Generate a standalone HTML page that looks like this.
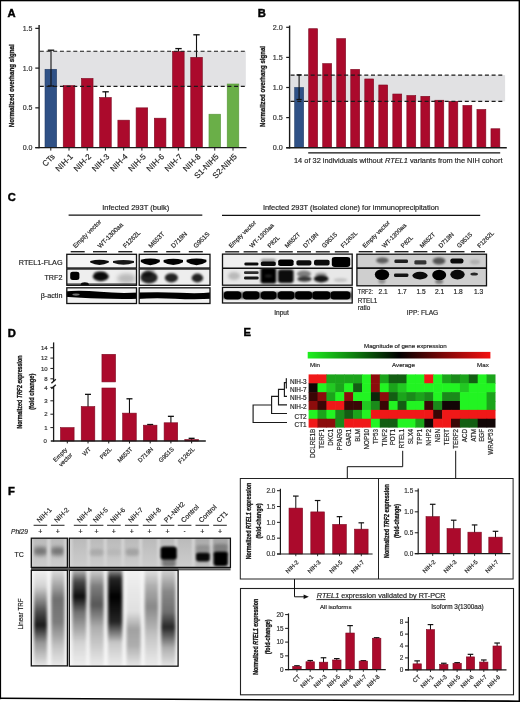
<!DOCTYPE html>
<html><head><meta charset="utf-8"><title>Figure</title><style>html,body{margin:0;padding:0;background:#fff;width:520px;height:702px;overflow:hidden;font-family:"Liberation Sans",sans-serif}svg{display:block;will-change:transform}text{stroke:#2a2a2a;stroke-width:0.18px}text[font-weight=bold]{stroke:#111;stroke-width:0.3px}</style></head><body>
<svg width="520" height="702" viewBox="0 0 520 702" font-family='"Liberation Sans", sans-serif'><defs><filter id="bl05" x="-50%" y="-50%" width="200%" height="200%"><feGaussianBlur stdDeviation="0.5"/></filter><filter id="bl1" x="-50%" y="-50%" width="200%" height="200%"><feGaussianBlur stdDeviation="1"/></filter><filter id="bl15" x="-50%" y="-50%" width="200%" height="200%"><feGaussianBlur stdDeviation="1.5"/></filter><filter id="bl2" x="-50%" y="-50%" width="200%" height="200%"><feGaussianBlur stdDeviation="2"/></filter><filter id="bl3" x="-50%" y="-50%" width="200%" height="200%"><feGaussianBlur stdDeviation="3"/></filter><clipPath id="cp1"><rect x="66.8" y="254.3" width="69.7" height="13.7"/></clipPath><clipPath id="cp2"><rect x="139.2" y="254.3" width="70.8" height="13.7"/></clipPath><clipPath id="cp3"><rect x="66.8" y="269" width="69.7" height="16.3"/></clipPath><clipPath id="cp4"><rect x="139.2" y="269" width="70.8" height="16.3"/></clipPath><clipPath id="cp5"><rect x="66.8" y="287.8" width="69.7" height="15.7"/></clipPath><clipPath id="cp6"><rect x="139.2" y="287.8" width="70.8" height="15.7"/></clipPath><clipPath id="cp7"><rect x="222.5" y="254.1" width="129.7" height="14.1"/></clipPath><clipPath id="cp8"><rect x="222.5" y="268.2" width="129.7" height="16.9"/></clipPath><clipPath id="cp9"><rect x="222.5" y="287.4" width="129.7" height="15.6"/></clipPath><clipPath id="cp10"><rect x="356.9" y="254.2" width="129.6" height="13.8"/></clipPath><clipPath id="cp11"><rect x="356.9" y="268" width="129.6" height="17.8"/></clipPath><linearGradient id="hmg" x1="0" x2="1" y1="0" y2="0"><stop offset="0" stop-color="#1ef01e"/><stop offset="0.25" stop-color="#0e800e"/><stop offset="0.5" stop-color="#000"/><stop offset="0.75" stop-color="#800808"/><stop offset="1" stop-color="#f41010"/></linearGradient><linearGradient id="tcg" x1="0" x2="0" y1="0" y2="1"><stop offset="0" stop-color="#bababa"/><stop offset="0.5" stop-color="#c4c4c4"/><stop offset="1" stop-color="#cdcdcd"/></linearGradient><clipPath id="cp12"><rect x="31.3" y="538.2" width="36" height="29.2"/></clipPath><clipPath id="cp13"><rect x="69.3" y="538.2" width="161.1" height="29.2"/></clipPath><clipPath id="cp14"><rect x="31.3" y="570.3" width="36" height="95.6"/></clipPath><linearGradient id="sm1" x1="0" x2="0" y1="0" y2="1"><stop offset="0" stop-color="#000" stop-opacity="0"/><stop offset="0.2" stop-color="#000" stop-opacity="0.15"/><stop offset="0.45" stop-color="#000" stop-opacity="0.7"/><stop offset="0.58" stop-color="#000" stop-opacity="0.9"/><stop offset="0.75" stop-color="#000" stop-opacity="0.4"/><stop offset="1" stop-color="#000" stop-opacity="0.05"/></linearGradient><linearGradient id="sm2" x1="0" x2="0" y1="0" y2="1"><stop offset="0" stop-color="#000" stop-opacity="0.05"/><stop offset="0.2" stop-color="#000" stop-opacity="0.35"/><stop offset="0.32" stop-color="#000" stop-opacity="0.55"/><stop offset="0.55" stop-color="#000" stop-opacity="0.5"/><stop offset="0.8" stop-color="#000" stop-opacity="0.2"/><stop offset="1" stop-color="#000" stop-opacity="0.05"/></linearGradient><linearGradient id="sm4" x1="0" x2="0" y1="0" y2="1"><stop offset="0" stop-color="#000" stop-opacity="0.1"/><stop offset="0.15" stop-color="#000" stop-opacity="0.7"/><stop offset="0.3" stop-color="#000" stop-opacity="0.95"/><stop offset="0.45" stop-color="#000" stop-opacity="0.55"/><stop offset="0.75" stop-color="#000" stop-opacity="0.15"/><stop offset="1" stop-color="#000" stop-opacity="0.03"/></linearGradient><linearGradient id="sm5" x1="0" x2="0" y1="0" y2="1"><stop offset="0" stop-color="#000" stop-opacity="0.08"/><stop offset="0.2" stop-color="#000" stop-opacity="0.5"/><stop offset="0.38" stop-color="#000" stop-opacity="0.65"/><stop offset="0.6" stop-color="#000" stop-opacity="0.3"/><stop offset="1" stop-color="#000" stop-opacity="0.04"/></linearGradient><linearGradient id="sm6" x1="0" x2="0" y1="0" y2="1"><stop offset="0" stop-color="#000" stop-opacity="0.15"/><stop offset="0.12" stop-color="#000" stop-opacity="0.85"/><stop offset="0.3" stop-color="#000" stop-opacity="1"/><stop offset="0.55" stop-color="#000" stop-opacity="0.85"/><stop offset="0.75" stop-color="#000" stop-opacity="0.2"/><stop offset="1" stop-color="#000" stop-opacity="0.04"/></linearGradient><linearGradient id="sm7" x1="0" x2="0" y1="0" y2="1"><stop offset="0" stop-color="#000" stop-opacity="0.02"/><stop offset="0.45" stop-color="#000" stop-opacity="0.1"/><stop offset="0.62" stop-color="#000" stop-opacity="0.35"/><stop offset="0.78" stop-color="#000" stop-opacity="0.3"/><stop offset="1" stop-color="#000" stop-opacity="0.05"/></linearGradient><linearGradient id="sm8" x1="0" x2="0" y1="0" y2="1"><stop offset="0" stop-color="#000" stop-opacity="0.05"/><stop offset="0.2" stop-color="#000" stop-opacity="0.3"/><stop offset="0.4" stop-color="#000" stop-opacity="0.45"/><stop offset="0.7" stop-color="#000" stop-opacity="0.2"/><stop offset="1" stop-color="#000" stop-opacity="0.04"/></linearGradient><linearGradient id="sm9" x1="0" x2="0" y1="0" y2="1"><stop offset="0" stop-color="#000" stop-opacity="0.1"/><stop offset="0.25" stop-color="#000" stop-opacity="0.45"/><stop offset="0.45" stop-color="#000" stop-opacity="0.55"/><stop offset="0.6" stop-color="#000" stop-opacity="0.85"/><stop offset="0.8" stop-color="#000" stop-opacity="0.3"/><stop offset="1" stop-color="#000" stop-opacity="0.06"/></linearGradient><clipPath id="cp15"><rect x="69.3" y="570.3" width="108.8" height="95.9"/></clipPath></defs><rect x="0" y="0" width="520" height="702" fill="#fff" />
<text x="7.6" y="16.9" font-size="11.2" font-weight="bold" fill="#000" style="stroke:#000;stroke-width:0.45px">A</text>
<rect x="39.8" y="51.25" width="206" height="35.14" fill="#e2e2e4" />
<rect x="45" y="69.29" width="11.6" height="78.31" fill="#2f5186" stroke="#223c66" stroke-width="0.6" />
<rect x="63.22" y="85.59" width="11.6" height="62.01" fill="#ab0a2c" stroke="#7d0a22" stroke-width="0.6" />
<rect x="81.44" y="78.43" width="11.6" height="69.17" fill="#ab0a2c" stroke="#7d0a22" stroke-width="0.6" />
<rect x="99.66" y="97.51" width="11.6" height="50.09" fill="#ab0a2c" stroke="#7d0a22" stroke-width="0.6" />
<rect x="117.88" y="120.17" width="11.6" height="27.43" fill="#ab0a2c" stroke="#7d0a22" stroke-width="0.6" />
<rect x="136.1" y="107.85" width="11.6" height="39.75" fill="#ab0a2c" stroke="#7d0a22" stroke-width="0.6" />
<rect x="154.32" y="118.19" width="11.6" height="29.41" fill="#ab0a2c" stroke="#7d0a22" stroke-width="0.6" />
<rect x="172.54" y="51.41" width="11.6" height="96.19" fill="#ab0a2c" stroke="#7d0a22" stroke-width="0.6" />
<rect x="190.76" y="57.37" width="11.6" height="90.23" fill="#ab0a2c" stroke="#7d0a22" stroke-width="0.6" />
<rect x="208.98" y="114.21" width="11.6" height="33.39" fill="#6aaf48" stroke="#58963a" stroke-width="0.6" />
<rect x="227.2" y="84" width="11.6" height="63.6" fill="#6aaf48" stroke="#58963a" stroke-width="0.6" />
<line x1="39.8" y1="51.25" x2="245.8" y2="51.25" stroke="#1a1a1a" stroke-width="1.15" stroke-dasharray="4 2.7"/>
<line x1="39.8" y1="86.38" x2="245.8" y2="86.38" stroke="#1a1a1a" stroke-width="1.15" stroke-dasharray="4 2.7"/>
<line x1="51" y1="86" x2="51" y2="50.2" stroke="#111" stroke-width="1.1" />
<line x1="47.8" y1="50.2" x2="54.2" y2="50.2" stroke="#111" stroke-width="1.32" />
<line x1="48" y1="86" x2="54" y2="86" stroke="#111" stroke-width="1.2" />
<line x1="105.6" y1="97.51" x2="105.6" y2="91.8" stroke="#111" stroke-width="1.1" />
<line x1="102.4" y1="91.8" x2="108.8" y2="91.8" stroke="#111" stroke-width="1.32" />
<line x1="178.5" y1="51.41" x2="178.5" y2="48.6" stroke="#111" stroke-width="1.1" />
<line x1="175.3" y1="48.6" x2="181.7" y2="48.6" stroke="#111" stroke-width="1.32" />
<line x1="196.5" y1="57.37" x2="196.5" y2="34.8" stroke="#111" stroke-width="1.1" />
<line x1="193.3" y1="34.8" x2="199.7" y2="34.8" stroke="#111" stroke-width="1.32" />
<line x1="39.1" y1="25" x2="39.1" y2="148.3" stroke="#1a1a1a" stroke-width="1.4" />
<line x1="35.3" y1="147.6" x2="246.5" y2="147.6" stroke="#1a1a1a" stroke-width="1.4" />
<line x1="35.3" y1="28.35" x2="39.1" y2="28.35" stroke="#1a1a1a" stroke-width="1.2" />
<text x="32.4" y="30.85" font-size="7" text-anchor="end" fill="#3a3a3a">1.5</text>
<line x1="35.3" y1="68.1" x2="39.1" y2="68.1" stroke="#1a1a1a" stroke-width="1.2" />
<text x="32.4" y="70.6" font-size="7" text-anchor="end" fill="#3a3a3a">1.0</text>
<line x1="35.3" y1="107.85" x2="39.1" y2="107.85" stroke="#1a1a1a" stroke-width="1.2" />
<text x="32.4" y="110.35" font-size="7" text-anchor="end" fill="#3a3a3a">0.5</text>
<line x1="35.3" y1="147.6" x2="39.1" y2="147.6" stroke="#1a1a1a" stroke-width="1.2" />
<text x="32.4" y="150.1" font-size="7" text-anchor="end" fill="#3a3a3a">0.0</text>
<line x1="50.8" y1="147.6" x2="50.8" y2="150.6" stroke="#1a1a1a" stroke-width="1" />
<text x="55.3" y="157.2" font-size="8" text-anchor="end" fill="#1a1a1a" transform="rotate(-45 55.3 157.2)">CTs</text>
<line x1="69.02" y1="147.6" x2="69.02" y2="150.6" stroke="#1a1a1a" stroke-width="1" />
<text x="73.52" y="157.2" font-size="8" text-anchor="end" fill="#1a1a1a" transform="rotate(-45 73.52 157.2)">NIH-1</text>
<line x1="87.24" y1="147.6" x2="87.24" y2="150.6" stroke="#1a1a1a" stroke-width="1" />
<text x="91.74" y="157.2" font-size="8" text-anchor="end" fill="#1a1a1a" transform="rotate(-45 91.74 157.2)">NIH-2</text>
<line x1="105.46" y1="147.6" x2="105.46" y2="150.6" stroke="#1a1a1a" stroke-width="1" />
<text x="109.96" y="157.2" font-size="8" text-anchor="end" fill="#1a1a1a" transform="rotate(-45 109.96 157.2)">NIH-3</text>
<line x1="123.68" y1="147.6" x2="123.68" y2="150.6" stroke="#1a1a1a" stroke-width="1" />
<text x="128.18" y="157.2" font-size="8" text-anchor="end" fill="#1a1a1a" transform="rotate(-45 128.18 157.2)">NIH-4</text>
<line x1="141.9" y1="147.6" x2="141.9" y2="150.6" stroke="#1a1a1a" stroke-width="1" />
<text x="146.4" y="157.2" font-size="8" text-anchor="end" fill="#1a1a1a" transform="rotate(-45 146.4 157.2)">NIH-5</text>
<line x1="160.12" y1="147.6" x2="160.12" y2="150.6" stroke="#1a1a1a" stroke-width="1" />
<text x="164.62" y="157.2" font-size="8" text-anchor="end" fill="#1a1a1a" transform="rotate(-45 164.62 157.2)">NIH-6</text>
<line x1="178.34" y1="147.6" x2="178.34" y2="150.6" stroke="#1a1a1a" stroke-width="1" />
<text x="182.84" y="157.2" font-size="8" text-anchor="end" fill="#1a1a1a" transform="rotate(-45 182.84 157.2)">NIH-7</text>
<line x1="196.56" y1="147.6" x2="196.56" y2="150.6" stroke="#1a1a1a" stroke-width="1" />
<text x="201.06" y="157.2" font-size="8" text-anchor="end" fill="#1a1a1a" transform="rotate(-45 201.06 157.2)">NIH-8</text>
<line x1="214.78" y1="147.6" x2="214.78" y2="150.6" stroke="#1a1a1a" stroke-width="1" />
<text x="219.28" y="157.2" font-size="8" text-anchor="end" fill="#1a1a1a" transform="rotate(-45 219.28 157.2)">S1-NIH5</text>
<line x1="233" y1="147.6" x2="233" y2="150.6" stroke="#1a1a1a" stroke-width="1" />
<text x="237.5" y="157.2" font-size="8" text-anchor="end" fill="#1a1a1a" transform="rotate(-45 237.5 157.2)">S2-NIH5</text>
<text x="14.5" y="85.8" font-size="7.2" text-anchor="middle" font-weight="bold" fill="#1a1a1a" textLength="83" lengthAdjust="spacingAndGlyphs" transform="rotate(-90 14.5 85.8)">Normalized overhang signal</text>
<text x="257.8" y="16.9" font-size="11.2" font-weight="bold" fill="#000" style="stroke:#000;stroke-width:0.45px">B</text>
<rect x="290.6" y="75.16" width="214.5" height="26.19" fill="#e1e1e3" />
<rect x="294.7" y="87.5" width="8.9" height="60.2" fill="#2f5186" stroke="#223c66" stroke-width="0.6" />
<rect x="308.7" y="28.7" width="8.9" height="119" fill="#ab0a2c" stroke="#7d0a22" stroke-width="0.6" />
<rect x="322.72" y="63.62" width="8.9" height="84.08" fill="#ab0a2c" stroke="#7d0a22" stroke-width="0.6" />
<rect x="336.74" y="38.64" width="8.9" height="109.06" fill="#ab0a2c" stroke="#7d0a22" stroke-width="0.6" />
<rect x="350.76" y="69.34" width="8.9" height="78.36" fill="#ab0a2c" stroke="#7d0a22" stroke-width="0.6" />
<rect x="364.78" y="78.97" width="8.9" height="68.73" fill="#ab0a2c" stroke="#7d0a22" stroke-width="0.6" />
<rect x="378.8" y="84.99" width="8.9" height="62.71" fill="#ab0a2c" stroke="#7d0a22" stroke-width="0.6" />
<rect x="392.82" y="94.02" width="8.9" height="53.68" fill="#ab0a2c" stroke="#7d0a22" stroke-width="0.6" />
<rect x="406.84" y="95.52" width="8.9" height="52.18" fill="#ab0a2c" stroke="#7d0a22" stroke-width="0.6" />
<rect x="420.86" y="96.31" width="8.9" height="51.39" fill="#ab0a2c" stroke="#7d0a22" stroke-width="0.6" />
<rect x="434.88" y="100.22" width="8.9" height="47.48" fill="#ab0a2c" stroke="#7d0a22" stroke-width="0.6" />
<rect x="448.9" y="101.36" width="8.9" height="46.34" fill="#ab0a2c" stroke="#7d0a22" stroke-width="0.6" />
<rect x="462.92" y="105.46" width="8.9" height="42.24" fill="#ab0a2c" stroke="#7d0a22" stroke-width="0.6" />
<rect x="476.94" y="109.49" width="8.9" height="38.21" fill="#ab0a2c" stroke="#7d0a22" stroke-width="0.6" />
<rect x="490.96" y="128.76" width="8.9" height="18.94" fill="#ab0a2c" stroke="#7d0a22" stroke-width="0.6" />
<line x1="290.6" y1="75.16" x2="504" y2="75.16" stroke="#1a1a1a" stroke-width="1.15" stroke-dasharray="4 2.7"/>
<line x1="290.6" y1="101.35" x2="504" y2="101.35" stroke="#1a1a1a" stroke-width="1.15" stroke-dasharray="4 2.7"/>
<line x1="299.1" y1="99.5" x2="299.1" y2="74.9" stroke="#111" stroke-width="1.1" />
<line x1="296.5" y1="74.9" x2="301.7" y2="74.9" stroke="#111" stroke-width="1.32" />
<line x1="296.5" y1="99.5" x2="301.7" y2="99.5" stroke="#111" stroke-width="1.2" />
<line x1="289.6" y1="25.5" x2="289.6" y2="148.4" stroke="#1a1a1a" stroke-width="1.4" />
<line x1="286.2" y1="147.7" x2="506.8" y2="147.7" stroke="#1a1a1a" stroke-width="1.4" />
<line x1="286.2" y1="27.3" x2="289.6" y2="27.3" stroke="#1a1a1a" stroke-width="1.2" />
<text x="282.7" y="29.8" font-size="7.2" text-anchor="end" fill="#3a3a3a">2.0</text>
<line x1="286.2" y1="57.4" x2="289.6" y2="57.4" stroke="#1a1a1a" stroke-width="1.2" />
<text x="282.7" y="59.9" font-size="7.2" text-anchor="end" fill="#3a3a3a">1.5</text>
<line x1="286.2" y1="87.5" x2="289.6" y2="87.5" stroke="#1a1a1a" stroke-width="1.2" />
<text x="282.7" y="90" font-size="7.2" text-anchor="end" fill="#3a3a3a">1.0</text>
<line x1="286.2" y1="117.6" x2="289.6" y2="117.6" stroke="#1a1a1a" stroke-width="1.2" />
<text x="282.7" y="120.1" font-size="7.2" text-anchor="end" fill="#3a3a3a">0.5</text>
<line x1="286.2" y1="147.7" x2="289.6" y2="147.7" stroke="#1a1a1a" stroke-width="1.2" />
<text x="282.7" y="150.2" font-size="7.2" text-anchor="end" fill="#3a3a3a">0.0</text>
<line x1="308.2" y1="152.8" x2="500.2" y2="152.8" stroke="#111" stroke-width="1.2" />
<text x="294" y="163" font-size="7.4" fill="#222" textLength="208.5" lengthAdjust="spacingAndGlyphs">14 of 32 individuals without <tspan font-style="italic">RTEL1</tspan> variants from the NIH cohort</text>
<text x="265.4" y="86.5" font-size="7.2" text-anchor="middle" font-weight="bold" fill="#1a1a1a" textLength="81" lengthAdjust="spacingAndGlyphs" transform="rotate(-90 265.4 86.5)">Normalized overhang signal</text>
<text x="7.8" y="200.6" font-size="11.2" font-weight="bold" fill="#000" style="stroke:#000;stroke-width:0.45px">C</text>
<text x="102.2" y="210.4" font-size="7.5" fill="#222" textLength="67" lengthAdjust="spacingAndGlyphs">Infected 293T (bulk)</text>
<line x1="68.6" y1="215.1" x2="202.3" y2="215.1" stroke="#111" stroke-width="1.2" />
<text x="262.9" y="210.2" font-size="7.4" fill="#222" textLength="176" lengthAdjust="spacingAndGlyphs">Infected 293T (isolated clone) for immunoprecipitation</text>
<line x1="222" y1="215.3" x2="480.2" y2="215.3" stroke="#111" stroke-width="1.2" />
<text x="75.5" y="248.6" font-size="6.4" fill="#222" transform="rotate(-45 75.5 248.6)">Empty vector</text>
<text x="100.2" y="248.6" font-size="6.4" fill="#222" transform="rotate(-45 100.2 248.6)">WT-1300aa</text>
<text x="125.5" y="248.6" font-size="6.4" fill="#222" transform="rotate(-45 125.5 248.6)">F1262L</text>
<text x="150.9" y="248.6" font-size="6.4" fill="#222" transform="rotate(-45 150.9 248.6)">M653T</text>
<text x="173.4" y="248.6" font-size="6.4" fill="#222" transform="rotate(-45 173.4 248.6)">D719N</text>
<text x="196" y="248.6" font-size="6.4" fill="#222" transform="rotate(-45 196 248.6)">G951S</text>
<text x="231.2" y="248.2" font-size="6.1" fill="#222" transform="rotate(-45 231.2 248.2)">Empty vector</text>
<text x="252" y="248.2" font-size="6.1" fill="#222" transform="rotate(-45 252 248.2)">WT-1300aa</text>
<text x="270" y="248.2" font-size="6.1" fill="#222" transform="rotate(-45 270 248.2)">P82L</text>
<text x="287.2" y="248.2" font-size="6.1" fill="#222" transform="rotate(-45 287.2 248.2)">M652T</text>
<text x="305.4" y="248.2" font-size="6.1" fill="#222" transform="rotate(-45 305.4 248.2)">D719N</text>
<text x="324.2" y="248.2" font-size="6.1" fill="#222" transform="rotate(-45 324.2 248.2)">G951S</text>
<text x="343.2" y="248.2" font-size="6.1" fill="#222" transform="rotate(-45 343.2 248.2)">F1262L</text>
<text x="365.1" y="248.2" font-size="6.1" fill="#222" transform="rotate(-45 365.1 248.2)">Empty vector</text>
<text x="384.4" y="248.2" font-size="6.1" fill="#222" transform="rotate(-45 384.4 248.2)">WT-1300aa</text>
<text x="403.3" y="248.2" font-size="6.1" fill="#222" transform="rotate(-45 403.3 248.2)">P82L</text>
<text x="422.2" y="248.2" font-size="6.1" fill="#222" transform="rotate(-45 422.2 248.2)">M652T</text>
<text x="440.9" y="248.2" font-size="6.1" fill="#222" transform="rotate(-45 440.9 248.2)">D719N</text>
<text x="459.3" y="248.2" font-size="6.1" fill="#222" transform="rotate(-45 459.3 248.2)">G951S</text>
<text x="479.8" y="248.2" font-size="6.1" fill="#222" transform="rotate(-45 479.8 248.2)">F1262L</text>
<line x1="70.7" y1="251.7" x2="84.7" y2="251.7" stroke="#222" stroke-width="1.4" />
<line x1="93" y1="251.7" x2="107" y2="251.7" stroke="#222" stroke-width="1.4" />
<line x1="118.3" y1="251.7" x2="132.3" y2="251.7" stroke="#222" stroke-width="1.4" />
<line x1="143.7" y1="251.7" x2="157.7" y2="251.7" stroke="#222" stroke-width="1.4" />
<line x1="166.2" y1="251.7" x2="180.2" y2="251.7" stroke="#222" stroke-width="1.4" />
<line x1="188.8" y1="251.7" x2="202.8" y2="251.7" stroke="#222" stroke-width="1.4" />
<line x1="225.2" y1="251.8" x2="239.2" y2="251.8" stroke="#222" stroke-width="1.4" />
<line x1="243.6" y1="251.8" x2="257.6" y2="251.8" stroke="#222" stroke-width="1.4" />
<line x1="261.6" y1="251.8" x2="275.6" y2="251.8" stroke="#222" stroke-width="1.4" />
<line x1="278.8" y1="251.8" x2="292.8" y2="251.8" stroke="#222" stroke-width="1.4" />
<line x1="297" y1="251.8" x2="311" y2="251.8" stroke="#222" stroke-width="1.4" />
<line x1="315.8" y1="251.8" x2="329.8" y2="251.8" stroke="#222" stroke-width="1.4" />
<line x1="334.8" y1="251.8" x2="348.8" y2="251.8" stroke="#222" stroke-width="1.4" />
<line x1="358.7" y1="251.7" x2="372.7" y2="251.7" stroke="#222" stroke-width="1.4" />
<line x1="375.6" y1="251.7" x2="389.6" y2="251.7" stroke="#222" stroke-width="1.4" />
<line x1="394.5" y1="251.7" x2="408.5" y2="251.7" stroke="#222" stroke-width="1.4" />
<line x1="413.4" y1="251.7" x2="427.4" y2="251.7" stroke="#222" stroke-width="1.4" />
<line x1="432.1" y1="251.7" x2="446.1" y2="251.7" stroke="#222" stroke-width="1.4" />
<line x1="450.5" y1="251.7" x2="464.5" y2="251.7" stroke="#222" stroke-width="1.4" />
<line x1="471" y1="251.7" x2="485" y2="251.7" stroke="#222" stroke-width="1.4" />
<text x="62.6" y="265.3" font-size="7.2" text-anchor="end" fill="#222" textLength="43.8" lengthAdjust="spacingAndGlyphs">RTEL1-FLAG</text>
<text x="62.4" y="279.8" font-size="7.2" text-anchor="end" fill="#222">TRF2</text>
<text x="62.4" y="297.6" font-size="7.2" text-anchor="end" fill="#222">&#946;-actin</text>
<rect x="66.8" y="254.3" width="69.7" height="13.7" fill="#f5f5f5" />
<rect x="66.8" y="269" width="69.7" height="16.3" fill="#eeeeee" />
<rect x="66.8" y="287.8" width="69.7" height="15.7" fill="#f2f2f2" />
<rect x="139.2" y="254.3" width="70.8" height="13.7" fill="#f5f5f5" />
<rect x="139.2" y="269" width="70.8" height="16.3" fill="#eeeeee" />
<rect x="139.2" y="287.8" width="70.8" height="15.7" fill="#f2f2f2" />
<g clip-path="url(#cp1)">
<path d="M90.2,260.9 Q99.5,258.7 108.8,260.9 L108.8,262.6 Q99.5,267.4 90.2,262.6 Z" fill="#000" fill-opacity="0.95" filter="url(#bl05)"/>
<path d="M113,261.1 Q123.5,258.9 134,261.1 L134,262.8 Q123.5,266.8 113,262.8 Z" fill="#000" fill-opacity="0.9" filter="url(#bl05)"/>
</g>
<g clip-path="url(#cp2)">
<path d="M140.8,259.7 Q150.3,257.5 159.8,259.7 L159.8,262 Q150.3,268.4 140.8,262 Z" fill="#000" fill-opacity="1" filter="url(#bl05)"/>
<path d="M163.6,259.9 Q173.3,257.7 183,259.9 L183,262.2 Q173.3,267.8 163.6,262.2 Z" fill="#000" fill-opacity="1" filter="url(#bl05)"/>
<path d="M186.6,259.7 Q196.5,257.5 206.4,259.7 L206.4,262 Q196.5,268.4 186.6,262 Z" fill="#000" fill-opacity="1" filter="url(#bl05)"/>
</g>
<g clip-path="url(#cp3)">
<rect x="70.2" y="271.8" width="9.2" height="8.2" rx="2.5" ry="2" fill="#000" fill-opacity="1" filter="url(#bl05)"/>
<ellipse cx="84.8" cy="284.2" rx="4" ry="2" fill="#000" fill-opacity="0.95" filter="url(#bl05)"/>
<rect x="66.8" y="283.2" width="70" height="3" fill="#000" fill-opacity="0.55" filter="url(#bl05)"/>
<ellipse cx="100.8" cy="276.6" rx="8" ry="4.6" fill="#000" fill-opacity="0.95" filter="url(#bl1)"/>
<ellipse cx="100" cy="273.5" rx="6" ry="2" fill="#000" fill-opacity="0.5" filter="url(#bl1)"/>
<ellipse cx="126.5" cy="278.5" rx="9.5" ry="5" fill="#000" fill-opacity="0.22" filter="url(#bl2)"/>
</g>
<g clip-path="url(#cp4)">
<ellipse cx="149" cy="277.6" rx="8.6" ry="6" fill="#000" fill-opacity="0.85" filter="url(#bl1)"/>
<ellipse cx="147" cy="274" rx="5" ry="3" fill="#000" fill-opacity="0.5" filter="url(#bl1)"/>
<ellipse cx="171.4" cy="277.8" rx="6.6" ry="4.6" fill="#000" fill-opacity="0.85" filter="url(#bl1)"/>
<ellipse cx="197.4" cy="278" rx="5.8" ry="4.4" fill="#000" fill-opacity="0.85" filter="url(#bl1)"/>
<ellipse cx="150" cy="270.5" rx="5" ry="2" fill="#000" fill-opacity="0.25" filter="url(#bl1)"/>
</g>
<g clip-path="url(#cp5)">
<path d="M64,291.4 Q80,290.0 100,291.8 T140,292.4 L140,298.8 Q120,299.4 100,298.6 T64,296.8 Z" fill="#000" filter="url(#bl05)"/>
<ellipse cx="76" cy="294.6" rx="3.6" ry="1.1" fill="#fff" fill-opacity="0.45" filter="url(#bl05)"/>
</g>
<g clip-path="url(#cp6)">
<path d="M137,292.6 Q160,291.6 180,292.8 T213,292.0 L213,298.8 Q195,299.8 175,298.8 T137,299.0 Z" fill="#000" filter="url(#bl05)"/>
</g>
<rect x="66.8" y="254.3" width="69.7" height="13.7" fill="none" stroke="#111" stroke-width="1.3" />
<rect x="66.8" y="269" width="69.7" height="16.3" fill="none" stroke="#111" stroke-width="1.3" />
<rect x="66.8" y="287.8" width="69.7" height="15.7" fill="none" stroke="#111" stroke-width="1.3" />
<rect x="139.2" y="254.3" width="70.8" height="13.7" fill="none" stroke="#111" stroke-width="1.3" />
<rect x="139.2" y="269" width="70.8" height="16.3" fill="none" stroke="#111" stroke-width="1.3" />
<rect x="139.2" y="287.8" width="70.8" height="15.7" fill="none" stroke="#111" stroke-width="1.3" />
<rect x="222.5" y="254.1" width="129.7" height="14.1" fill="#efefef" />
<rect x="222.5" y="268.2" width="129.7" height="16.9" fill="#e8e8e8" />
<rect x="222.5" y="287.4" width="129.7" height="15.6" fill="#f3f3f3" />
<g clip-path="url(#cp7)">
<rect x="244.4" y="262.4" width="14" height="3.2" rx="1.4" ry="1.12" fill="#000" fill-opacity="0.95" filter="url(#bl05)"/>
<rect x="260.8" y="258.8" width="15" height="4.2" rx="2" ry="1.6" fill="#000" fill-opacity="0.35" filter="url(#bl1)"/>
<rect x="260.8" y="261.4" width="15" height="4.6" rx="2" ry="1.6" fill="#000" fill-opacity="0.95" filter="url(#bl05)"/>
<rect x="278.2" y="259.6" width="15.4" height="6.4" rx="2.2" ry="1.76" fill="#000" fill-opacity="1" filter="url(#bl05)"/>
<rect x="296.4" y="260.2" width="15" height="5.2" rx="2" ry="1.6" fill="#000" fill-opacity="0.95" filter="url(#bl05)"/>
<rect x="314" y="259.8" width="15.6" height="5.6" rx="2" ry="1.6" fill="#000" fill-opacity="0.95" filter="url(#bl05)"/>
<rect x="331.8" y="257" width="18.4" height="10" rx="3" ry="2.4" fill="#000" fill-opacity="1" filter="url(#bl05)"/>
</g>
<g clip-path="url(#cp8)">
<ellipse cx="234" cy="276" rx="6" ry="4" fill="#000" fill-opacity="0.2" filter="url(#bl15)"/>
<rect x="244" y="271.2" width="14.6" height="2.8" rx="1.2" ry="0.96" fill="#000" fill-opacity="0.8" filter="url(#bl05)"/>
<rect x="244" y="276.4" width="14.6" height="3.2" rx="1.4" ry="1.12" fill="#000" fill-opacity="0.9" filter="url(#bl05)"/>
<rect x="260.6" y="267.6" width="15.6" height="16" rx="3" ry="2.4" fill="#000" fill-opacity="1" filter="url(#bl1)"/>
<ellipse cx="268.4" cy="276" rx="3.5" ry="1.2" fill="#fff" fill-opacity="0.15" filter="url(#bl1)"/>
<rect x="278" y="269.4" width="15.6" height="13.6" rx="3" ry="2.4" fill="#000" fill-opacity="0.95" filter="url(#bl1)"/>
<ellipse cx="304" cy="274" rx="7" ry="3.4" fill="#000" fill-opacity="0.45" filter="url(#bl1)"/>
<ellipse cx="304.5" cy="279" rx="7.2" ry="2.8" fill="#000" fill-opacity="0.75" filter="url(#bl1)"/>
<ellipse cx="321.2" cy="278.8" rx="7.4" ry="3.6" fill="#000" fill-opacity="0.9" filter="url(#bl1)"/>
<ellipse cx="321" cy="274.5" rx="6" ry="2.2" fill="#000" fill-opacity="0.3" filter="url(#bl1)"/>
<ellipse cx="340.5" cy="280" rx="7" ry="2" fill="#000" fill-opacity="0.15" filter="url(#bl1)"/>
</g>
<g clip-path="url(#cp9)">
<rect x="222.5" y="292.2" width="129.7" height="6.6" fill="#000" fill-opacity="0.7" filter="url(#bl1)"/>
<rect x="224" y="291.2" width="17" height="8.2" rx="3.2" ry="2.56" fill="#000" fill-opacity="1" filter="url(#bl05)"/>
<rect x="243" y="291.2" width="16.2" height="8.2" rx="3.2" ry="2.56" fill="#000" fill-opacity="1" filter="url(#bl05)"/>
<rect x="261" y="291.2" width="15.2" height="8.2" rx="3.2" ry="2.56" fill="#000" fill-opacity="1" filter="url(#bl05)"/>
<rect x="278" y="291.2" width="16.2" height="8.2" rx="3.2" ry="2.56" fill="#000" fill-opacity="1" filter="url(#bl05)"/>
<rect x="295.2" y="291.2" width="16.8" height="8.2" rx="3.2" ry="2.56" fill="#000" fill-opacity="1" filter="url(#bl05)"/>
<rect x="312.4" y="291.2" width="17.8" height="8.2" rx="3.2" ry="2.56" fill="#000" fill-opacity="1" filter="url(#bl05)"/>
<rect x="330.6" y="291.2" width="19.6" height="8.2" rx="3.2" ry="2.56" fill="#000" fill-opacity="1" filter="url(#bl05)"/>
</g>
<rect x="222.5" y="254.1" width="129.7" height="31.1" fill="none" stroke="#111" stroke-width="1.3" />
<line x1="222.5" y1="268.2" x2="352.2" y2="268.2" stroke="#111" stroke-width="1.6" />
<rect x="222.5" y="287.4" width="129.7" height="15.6" fill="none" stroke="#111" stroke-width="1.3" />
<text x="281.5" y="315" font-size="6.6" text-anchor="middle" fill="#222">Input</text>
<rect x="356.9" y="254.2" width="129.6" height="31.6" fill="#cfcfcf" />
<g clip-path="url(#cp10)">
<ellipse cx="382.4" cy="260.4" rx="6.2" ry="3" fill="#000" fill-opacity="0.55" filter="url(#bl1)"/>
<rect x="394.4" y="259.6" width="13.6" height="3.4" rx="1.4" ry="1.12" fill="#000" fill-opacity="0.85" filter="url(#bl05)"/>
<rect x="414.4" y="260.2" width="12" height="4.4" rx="1.6" ry="1.28" fill="#000" fill-opacity="0.75" filter="url(#bl05)"/>
<ellipse cx="439" cy="261" rx="6.4" ry="3.4" fill="#000" fill-opacity="0.6" filter="url(#bl1)"/>
<rect x="450.4" y="258.6" width="13" height="4.8" rx="2" ry="1.6" fill="#000" fill-opacity="0.95" filter="url(#bl05)"/>
<ellipse cx="475" cy="262" rx="5" ry="2.4" fill="#000" fill-opacity="0.15" filter="url(#bl1)"/>
</g>
<g clip-path="url(#cp11)">
<ellipse cx="382" cy="274.6" rx="7.2" ry="5.4" fill="#000" fill-opacity="1" filter="url(#bl05)"/>
<ellipse cx="382" cy="281" rx="3.5" ry="3" fill="#000" fill-opacity="0.3" filter="url(#bl1)"/>
<rect x="394" y="273.4" width="14.4" height="3.6" rx="1.5" ry="1.2" fill="#000" fill-opacity="0.9" filter="url(#bl05)"/>
<ellipse cx="420" cy="275.6" rx="7.6" ry="3.8" fill="#000" fill-opacity="0.95" filter="url(#bl05)"/>
<ellipse cx="439.2" cy="275" rx="7" ry="5.2" fill="#000" fill-opacity="1" filter="url(#bl05)"/>
<ellipse cx="439.2" cy="281.5" rx="4" ry="2.5" fill="#000" fill-opacity="0.4" filter="url(#bl1)"/>
<ellipse cx="457.5" cy="274.6" rx="7.2" ry="4.8" fill="#000" fill-opacity="0.95" filter="url(#bl05)"/>
<ellipse cx="474.2" cy="274" rx="3.8" ry="1.6" fill="#000" fill-opacity="0.8" filter="url(#bl05)"/>
</g>
<rect x="356.9" y="254.2" width="129.6" height="31.6" fill="none" stroke="#111" stroke-width="1.3" />
<line x1="356.9" y1="268.1" x2="486.5" y2="268.1" stroke="#111" stroke-width="1.8" />
<text x="357.8" y="293.6" font-size="6.6" fill="#222" textLength="15.2" lengthAdjust="spacingAndGlyphs">TRF2:</text>
<text x="357.8" y="302.6" font-size="6.6" fill="#222" textLength="19.6" lengthAdjust="spacingAndGlyphs">RTEL1</text>
<text x="357.8" y="309.8" font-size="6.9" fill="#222" textLength="12.4" lengthAdjust="spacingAndGlyphs">ratio</text>
<text x="383.2" y="293.8" font-size="6.6" text-anchor="middle" fill="#222">2.1</text>
<text x="402.1" y="293.8" font-size="6.6" text-anchor="middle" fill="#222">1.7</text>
<text x="421" y="293.8" font-size="6.6" text-anchor="middle" fill="#222">1.5</text>
<text x="439.7" y="293.8" font-size="6.6" text-anchor="middle" fill="#222">2.1</text>
<text x="458.1" y="293.8" font-size="6.6" text-anchor="middle" fill="#222">1.8</text>
<text x="478.6" y="293.8" font-size="6.6" text-anchor="middle" fill="#222">1.3</text>
<text x="438.2" y="314.7" font-size="6.6" text-anchor="end" fill="#222">IPP: FLAG</text>
<text x="7.8" y="337" font-size="11.2" font-weight="bold" fill="#000" style="stroke:#000;stroke-width:0.45px">D</text>
<rect x="60.5" y="427.6" width="13.6" height="13.4" fill="#ab0a2c" stroke="#7d0a22" stroke-width="0.6" />
<line x1="88.02" y1="407.56" x2="88.02" y2="394.37" stroke="#111" stroke-width="1.1" />
<line x1="85.02" y1="394.37" x2="91.02" y2="394.37" stroke="#111" stroke-width="1.32" />
<rect x="81.22" y="406.56" width="13.6" height="34.44" fill="#ab0a2c" stroke="#7d0a22" stroke-width="0.6" />
<rect x="101.94" y="354.3" width="13.6" height="27.61" fill="#ab0a2c" stroke="#7d0a22" stroke-width="0.6" />
<rect x="101.94" y="388" width="13.6" height="53" fill="#ab0a2c" stroke="#7d0a22" stroke-width="0.6" />
<line x1="129.46" y1="414.13" x2="129.46" y2="398.79" stroke="#111" stroke-width="1.1" />
<line x1="126.46" y1="398.79" x2="132.46" y2="398.79" stroke="#111" stroke-width="1.32" />
<rect x="122.66" y="413.13" width="13.6" height="27.87" fill="#ab0a2c" stroke="#7d0a22" stroke-width="0.6" />
<line x1="150.18" y1="426.19" x2="150.18" y2="424.52" stroke="#111" stroke-width="1.1" />
<line x1="147.18" y1="424.52" x2="153.18" y2="424.52" stroke="#111" stroke-width="1.32" />
<rect x="143.38" y="425.19" width="13.6" height="15.81" fill="#ab0a2c" stroke="#7d0a22" stroke-width="0.6" />
<line x1="170.9" y1="423.78" x2="170.9" y2="416.34" stroke="#111" stroke-width="1.1" />
<line x1="167.9" y1="416.34" x2="173.9" y2="416.34" stroke="#111" stroke-width="1.32" />
<rect x="164.1" y="422.78" width="13.6" height="18.22" fill="#ab0a2c" stroke="#7d0a22" stroke-width="0.6" />
<line x1="191.62" y1="440.53" x2="191.62" y2="438.32" stroke="#111" stroke-width="1.1" />
<line x1="188.62" y1="438.32" x2="194.62" y2="438.32" stroke="#111" stroke-width="1.32" />
<rect x="184.82" y="439.53" width="13.6" height="1.47" fill="#ab0a2c" stroke="#7d0a22" stroke-width="0.6" />
<line x1="53.6" y1="342.4" x2="53.6" y2="381.2" stroke="#1a1a1a" stroke-width="1.3" />
<line x1="53.6" y1="386.6" x2="53.6" y2="441.6" stroke="#1a1a1a" stroke-width="1.3" />
<line x1="51.4" y1="383.2" x2="55.8" y2="379.2" stroke="#1a1a1a" stroke-width="1.4" />
<line x1="51.4" y1="388.8" x2="55.8" y2="384.8" stroke="#1a1a1a" stroke-width="1.4" />
<line x1="50.8" y1="441" x2="205.8" y2="441" stroke="#1a1a1a" stroke-width="1.3" />
<line x1="50.4" y1="347.72" x2="53.6" y2="347.72" stroke="#1a1a1a" stroke-width="1" />
<text x="47.6" y="349.82" font-size="6" text-anchor="end" fill="#3a3a3a">14</text>
<line x1="50.4" y1="358.08" x2="53.6" y2="358.08" stroke="#1a1a1a" stroke-width="1" />
<text x="47.6" y="360.18" font-size="6" text-anchor="end" fill="#3a3a3a">12</text>
<line x1="50.4" y1="368.44" x2="53.6" y2="368.44" stroke="#1a1a1a" stroke-width="1" />
<text x="47.6" y="370.54" font-size="6" text-anchor="end" fill="#3a3a3a">10</text>
<line x1="50.4" y1="378.8" x2="53.6" y2="378.8" stroke="#1a1a1a" stroke-width="1" />
<text x="47.6" y="380.9" font-size="6" text-anchor="end" fill="#3a3a3a">8</text>
<line x1="50.4" y1="387.4" x2="53.6" y2="387.4" stroke="#1a1a1a" stroke-width="1" />
<text x="47.6" y="389.5" font-size="6" text-anchor="end" fill="#3a3a3a">4</text>
<line x1="50.4" y1="400.8" x2="53.6" y2="400.8" stroke="#1a1a1a" stroke-width="1" />
<text x="47.6" y="402.9" font-size="6" text-anchor="end" fill="#3a3a3a">3</text>
<line x1="50.4" y1="414.2" x2="53.6" y2="414.2" stroke="#1a1a1a" stroke-width="1" />
<text x="47.6" y="416.3" font-size="6" text-anchor="end" fill="#3a3a3a">2</text>
<line x1="50.4" y1="427.6" x2="53.6" y2="427.6" stroke="#1a1a1a" stroke-width="1" />
<text x="47.6" y="429.7" font-size="6" text-anchor="end" fill="#3a3a3a">1</text>
<text x="46.8" y="443.1" font-size="6" text-anchor="end" fill="#3a3a3a">0</text>
<line x1="67.3" y1="441" x2="67.3" y2="443.4" stroke="#1a1a1a" stroke-width="1" />
<line x1="88.02" y1="441" x2="88.02" y2="443.4" stroke="#1a1a1a" stroke-width="1" />
<line x1="108.74" y1="441" x2="108.74" y2="443.4" stroke="#1a1a1a" stroke-width="1" />
<line x1="129.46" y1="441" x2="129.46" y2="443.4" stroke="#1a1a1a" stroke-width="1" />
<line x1="150.18" y1="441" x2="150.18" y2="443.4" stroke="#1a1a1a" stroke-width="1" />
<line x1="170.9" y1="441" x2="170.9" y2="443.4" stroke="#1a1a1a" stroke-width="1" />
<line x1="191.62" y1="441" x2="191.62" y2="443.4" stroke="#1a1a1a" stroke-width="1" />
<text x="67.6" y="450.2" font-size="6" text-anchor="end" fill="#222" transform="rotate(-45 67.6 450.2)">Empty</text>
<text x="72.8" y="455.4" font-size="6" text-anchor="end" fill="#222" transform="rotate(-45 72.8 455.4)">vector</text>
<text x="91.42" y="449.6" font-size="6" text-anchor="end" fill="#222" transform="rotate(-45 91.42 449.6)">WT</text>
<text x="112.14" y="449.6" font-size="6" text-anchor="end" fill="#222" transform="rotate(-45 112.14 449.6)">P82L</text>
<text x="132.86" y="449.6" font-size="6" text-anchor="end" fill="#222" transform="rotate(-45 132.86 449.6)">M653T</text>
<text x="153.58" y="449.6" font-size="6" text-anchor="end" fill="#222" transform="rotate(-45 153.58 449.6)">D719N</text>
<text x="174.3" y="449.6" font-size="6" text-anchor="end" fill="#222" transform="rotate(-45 174.3 449.6)">G951S</text>
<text x="195.02" y="449.6" font-size="6" text-anchor="end" fill="#222" transform="rotate(-45 195.02 449.6)">F1262L</text>
<text x="22.8" y="391.7" font-size="6.8" text-anchor="middle" fill="#1a1a1a" font-weight="bold" transform="rotate(-90 22.6 392.2)" textLength="73" lengthAdjust="spacingAndGlyphs">Normalized <tspan font-style="italic">TRF2</tspan> expression</text>
<text x="34.4" y="391.7" font-size="6.8" text-anchor="middle" font-weight="bold" fill="#1a1a1a" textLength="36.3" lengthAdjust="spacingAndGlyphs" transform="rotate(-90 34.4 391.7)">(fold change)</text>
<text x="243.4" y="336.2" font-size="11.2" font-weight="bold" fill="#000" style="stroke:#000;stroke-width:0.45px">E</text>
<text x="364" y="347.5" font-size="6.2" fill="#222" textLength="82.7" lengthAdjust="spacingAndGlyphs">Magnitude of gene expression</text>
<rect x="307.7" y="351.9" width="182.7" height="6.6" fill="url(#hmg)" />
<text x="310" y="366.8" font-size="6.2" fill="#222">Min</text>
<text x="403.5" y="366.8" font-size="6.2" text-anchor="middle" fill="#222">Average</text>
<text x="488.8" y="366.8" font-size="6.2" text-anchor="end" fill="#222">Max</text>
<rect x="308.6" y="374.4" width="9.5" height="9.47" fill="#f01818" />
<rect x="317.5" y="374.4" width="9.5" height="9.47" fill="#f01818" />
<rect x="326.4" y="374.4" width="9.5" height="9.47" fill="#1ba41b" />
<rect x="335.3" y="374.4" width="9.5" height="9.47" fill="#1ba41b" />
<rect x="344.2" y="374.4" width="9.5" height="9.47" fill="#1ba41b" />
<rect x="353.1" y="374.4" width="9.5" height="9.47" fill="#1ba41b" />
<rect x="362" y="374.4" width="9.5" height="9.47" fill="#22f422" />
<rect x="370.9" y="374.4" width="9.5" height="9.47" fill="#8c0c0c" />
<rect x="379.8" y="374.4" width="9.5" height="9.47" fill="#1ba41b" />
<rect x="388.7" y="374.4" width="9.5" height="9.47" fill="#135e13" />
<rect x="397.6" y="374.4" width="9.5" height="9.47" fill="#135e13" />
<rect x="406.5" y="374.4" width="9.5" height="9.47" fill="#22f422" />
<rect x="415.4" y="374.4" width="9.5" height="9.47" fill="#22f422" />
<rect x="424.3" y="374.4" width="9.5" height="9.47" fill="#f01818" />
<rect x="433.2" y="374.4" width="9.5" height="9.47" fill="#22f422" />
<rect x="442.1" y="374.4" width="9.5" height="9.47" fill="#1ba41b" />
<rect x="451" y="374.4" width="9.5" height="9.47" fill="#1a8a1a" />
<rect x="459.9" y="374.4" width="9.5" height="9.47" fill="#1ba41b" />
<rect x="468.8" y="374.4" width="9.5" height="9.47" fill="#135e13" />
<rect x="477.7" y="374.4" width="9.5" height="9.47" fill="#22f422" />
<rect x="486.6" y="374.4" width="8.9" height="9.47" fill="#1ba41b" />
<rect x="308.6" y="383.27" width="9.5" height="9.47" fill="#120606" />
<rect x="317.5" y="383.27" width="9.5" height="9.47" fill="#22f422" />
<rect x="326.4" y="383.27" width="9.5" height="9.47" fill="#22c822" />
<rect x="335.3" y="383.27" width="9.5" height="9.47" fill="#1ba41b" />
<rect x="344.2" y="383.27" width="9.5" height="9.47" fill="#22f422" />
<rect x="353.1" y="383.27" width="9.5" height="9.47" fill="#135e13" />
<rect x="362" y="383.27" width="9.5" height="9.47" fill="#22f422" />
<rect x="370.9" y="383.27" width="9.5" height="9.47" fill="#8c0c0c" />
<rect x="379.8" y="383.27" width="9.5" height="9.47" fill="#22f422" />
<rect x="388.7" y="383.27" width="9.5" height="9.47" fill="#1ba41b" />
<rect x="397.6" y="383.27" width="9.5" height="9.47" fill="#22c822" />
<rect x="406.5" y="383.27" width="9.5" height="9.47" fill="#22f422" />
<rect x="415.4" y="383.27" width="9.5" height="9.47" fill="#22f422" />
<rect x="424.3" y="383.27" width="9.5" height="9.47" fill="#22f422" />
<rect x="433.2" y="383.27" width="9.5" height="9.47" fill="#22f422" />
<rect x="442.1" y="383.27" width="9.5" height="9.47" fill="#22f422" />
<rect x="451" y="383.27" width="9.5" height="9.47" fill="#22f422" />
<rect x="459.9" y="383.27" width="9.5" height="9.47" fill="#22c822" />
<rect x="468.8" y="383.27" width="9.5" height="9.47" fill="#22f422" />
<rect x="477.7" y="383.27" width="9.5" height="9.47" fill="#22f422" />
<rect x="486.6" y="383.27" width="8.9" height="9.47" fill="#22f422" />
<rect x="308.6" y="392.14" width="9.5" height="9.47" fill="#3a0606" />
<rect x="317.5" y="392.14" width="9.5" height="9.47" fill="#8c0c0c" />
<rect x="326.4" y="392.14" width="9.5" height="9.47" fill="#1ba41b" />
<rect x="335.3" y="392.14" width="9.5" height="9.47" fill="#22f422" />
<rect x="344.2" y="392.14" width="9.5" height="9.47" fill="#8c0c0c" />
<rect x="353.1" y="392.14" width="9.5" height="9.47" fill="#22f422" />
<rect x="362" y="392.14" width="9.5" height="9.47" fill="#22f422" />
<rect x="370.9" y="392.14" width="9.5" height="9.47" fill="#0a260a" />
<rect x="379.8" y="392.14" width="9.5" height="9.47" fill="#8c0c0c" />
<rect x="388.7" y="392.14" width="9.5" height="9.47" fill="#135e13" />
<rect x="397.6" y="392.14" width="9.5" height="9.47" fill="#1ba41b" />
<rect x="406.5" y="392.14" width="9.5" height="9.47" fill="#1a8a1a" />
<rect x="415.4" y="392.14" width="9.5" height="9.47" fill="#1ba41b" />
<rect x="424.3" y="392.14" width="9.5" height="9.47" fill="#1a8a1a" />
<rect x="433.2" y="392.14" width="9.5" height="9.47" fill="#22f422" />
<rect x="442.1" y="392.14" width="9.5" height="9.47" fill="#1a8a1a" />
<rect x="451" y="392.14" width="9.5" height="9.47" fill="#1a8a1a" />
<rect x="459.9" y="392.14" width="9.5" height="9.47" fill="#22f422" />
<rect x="468.8" y="392.14" width="9.5" height="9.47" fill="#22f422" />
<rect x="477.7" y="392.14" width="9.5" height="9.47" fill="#22f422" />
<rect x="486.6" y="392.14" width="8.9" height="9.47" fill="#1ba41b" />
<rect x="308.6" y="401.01" width="9.5" height="9.47" fill="#8c0c0c" />
<rect x="317.5" y="401.01" width="9.5" height="9.47" fill="#3a0606" />
<rect x="326.4" y="401.01" width="9.5" height="9.47" fill="#f01818" />
<rect x="335.3" y="401.01" width="9.5" height="9.47" fill="#f01818" />
<rect x="344.2" y="401.01" width="9.5" height="9.47" fill="#3a0606" />
<rect x="353.1" y="401.01" width="9.5" height="9.47" fill="#3a0606" />
<rect x="362" y="401.01" width="9.5" height="9.47" fill="#22c822" />
<rect x="370.9" y="401.01" width="9.5" height="9.47" fill="#1a8a1a" />
<rect x="379.8" y="401.01" width="9.5" height="9.47" fill="#3a0606" />
<rect x="388.7" y="401.01" width="9.5" height="9.47" fill="#22f422" />
<rect x="397.6" y="401.01" width="9.5" height="9.47" fill="#135e13" />
<rect x="406.5" y="401.01" width="9.5" height="9.47" fill="#22f422" />
<rect x="415.4" y="401.01" width="9.5" height="9.47" fill="#22f422" />
<rect x="424.3" y="401.01" width="9.5" height="9.47" fill="#3a0606" />
<rect x="433.2" y="401.01" width="9.5" height="9.47" fill="#1a8a1a" />
<rect x="442.1" y="401.01" width="9.5" height="9.47" fill="#120606" />
<rect x="451" y="401.01" width="9.5" height="9.47" fill="#120606" />
<rect x="459.9" y="401.01" width="9.5" height="9.47" fill="#22f422" />
<rect x="468.8" y="401.01" width="9.5" height="9.47" fill="#22f422" />
<rect x="477.7" y="401.01" width="9.5" height="9.47" fill="#22f422" />
<rect x="486.6" y="401.01" width="8.9" height="9.47" fill="#1ba41b" />
<rect x="308.6" y="409.88" width="9.5" height="9.47" fill="#22f422" />
<rect x="317.5" y="409.88" width="9.5" height="9.47" fill="#1ba41b" />
<rect x="326.4" y="409.88" width="9.5" height="9.47" fill="#22f422" />
<rect x="335.3" y="409.88" width="9.5" height="9.47" fill="#1a8a1a" />
<rect x="344.2" y="409.88" width="9.5" height="9.47" fill="#135e13" />
<rect x="353.1" y="409.88" width="9.5" height="9.47" fill="#1ba41b" />
<rect x="362" y="409.88" width="9.5" height="9.47" fill="#22f422" />
<rect x="370.9" y="409.88" width="9.5" height="9.47" fill="#f01818" />
<rect x="379.8" y="409.88" width="9.5" height="9.47" fill="#f01818" />
<rect x="388.7" y="409.88" width="9.5" height="9.47" fill="#f01818" />
<rect x="397.6" y="409.88" width="9.5" height="9.47" fill="#f01818" />
<rect x="406.5" y="409.88" width="9.5" height="9.47" fill="#f01818" />
<rect x="415.4" y="409.88" width="9.5" height="9.47" fill="#f01818" />
<rect x="424.3" y="409.88" width="9.5" height="9.47" fill="#f01818" />
<rect x="433.2" y="409.88" width="9.5" height="9.47" fill="#3a0606" />
<rect x="442.1" y="409.88" width="9.5" height="9.47" fill="#f01818" />
<rect x="451" y="409.88" width="9.5" height="9.47" fill="#f01818" />
<rect x="459.9" y="409.88" width="9.5" height="9.47" fill="#f01818" />
<rect x="468.8" y="409.88" width="9.5" height="9.47" fill="#f01818" />
<rect x="477.7" y="409.88" width="9.5" height="9.47" fill="#f01818" />
<rect x="486.6" y="409.88" width="8.9" height="9.47" fill="#f01818" />
<rect x="308.6" y="418.75" width="9.5" height="8.87" fill="#f01818" />
<rect x="317.5" y="418.75" width="9.5" height="8.87" fill="#8c0c0c" />
<rect x="326.4" y="418.75" width="9.5" height="8.87" fill="#8c0c0c" />
<rect x="335.3" y="418.75" width="9.5" height="8.87" fill="#1a8a1a" />
<rect x="344.2" y="418.75" width="9.5" height="8.87" fill="#f01818" />
<rect x="353.1" y="418.75" width="9.5" height="8.87" fill="#f01818" />
<rect x="362" y="418.75" width="9.5" height="8.87" fill="#f01818" />
<rect x="370.9" y="418.75" width="9.5" height="8.87" fill="#22f422" />
<rect x="379.8" y="418.75" width="9.5" height="8.87" fill="#135e13" />
<rect x="388.7" y="418.75" width="9.5" height="8.87" fill="#135e13" />
<rect x="397.6" y="418.75" width="9.5" height="8.87" fill="#22f422" />
<rect x="406.5" y="418.75" width="9.5" height="8.87" fill="#22f422" />
<rect x="415.4" y="418.75" width="9.5" height="8.87" fill="#1ba41b" />
<rect x="424.3" y="418.75" width="9.5" height="8.87" fill="#120606" />
<rect x="433.2" y="418.75" width="9.5" height="8.87" fill="#f01818" />
<rect x="442.1" y="418.75" width="9.5" height="8.87" fill="#f01818" />
<rect x="451" y="418.75" width="9.5" height="8.87" fill="#3a0606" />
<rect x="459.9" y="418.75" width="9.5" height="8.87" fill="#135e13" />
<rect x="468.8" y="418.75" width="9.5" height="8.87" fill="#135e13" />
<rect x="477.7" y="418.75" width="9.5" height="8.87" fill="#120606" />
<rect x="486.6" y="418.75" width="8.9" height="8.87" fill="#120606" />
<text x="306.6" y="384.4" font-size="6.4" text-anchor="end" fill="#1a1a1a">NIH-3</text>
<text x="306.6" y="391.9" font-size="6.4" text-anchor="end" fill="#1a1a1a">NIH-7</text>
<text x="306.6" y="400.4" font-size="6.4" text-anchor="end" fill="#1a1a1a">NIH-5</text>
<text x="306.6" y="409.4" font-size="6.4" text-anchor="end" fill="#1a1a1a">NIH-2</text>
<text x="306.6" y="418.55" font-size="6.4" text-anchor="end" fill="#1a1a1a">CT2</text>
<text x="306.6" y="426.9" font-size="6.4" text-anchor="end" fill="#1a1a1a">CT1</text>
<path d="M287,378.8 H286.3 V388 H287" fill="none" stroke="#1a1a1a" stroke-width="1.15" />
<path d="M286.3,382.6 H284.4 V396.3 H287" fill="none" stroke="#1a1a1a" stroke-width="1.15" />
<path d="M284.4,389.4 H278.5 V404.8 H287" fill="none" stroke="#1a1a1a" stroke-width="1.15" />
<path d="M278.5,396.3 H271.6 V413.5 H287" fill="none" stroke="#1a1a1a" stroke-width="1.15" />
<path d="M271.6,405.0 H253.1 V422.5 H287" fill="none" stroke="#1a1a1a" stroke-width="1.15" />
<text x="315.35" y="428.9" font-size="6.3" text-anchor="end" fill="#222" transform="rotate(-90 315.35 428.9)">DCLRE1B</text>
<text x="324.25" y="428.9" font-size="6.3" text-anchor="end" fill="#222" transform="rotate(-90 324.25 428.9)">TERF1</text>
<text x="333.15" y="428.9" font-size="6.3" text-anchor="end" fill="#222" transform="rotate(-90 333.15 428.9)">DKC1</text>
<text x="342.05" y="428.9" font-size="6.3" text-anchor="end" fill="#222" transform="rotate(-90 342.05 428.9)">PPARG</text>
<text x="350.95" y="428.9" font-size="6.3" text-anchor="end" fill="#222" transform="rotate(-90 350.95 428.9)">GAR1</text>
<text x="359.85" y="428.9" font-size="6.3" text-anchor="end" fill="#222" transform="rotate(-90 359.85 428.9)">BLM</text>
<text x="368.75" y="428.9" font-size="6.3" text-anchor="end" fill="#222" transform="rotate(-90 368.75 428.9)">NOP10</text>
<text x="377.65" y="428.9" font-size="6.3" text-anchor="end" fill="#222" transform="rotate(-90 377.65 428.9)">TP53</text>
<text x="386.55" y="428.9" font-size="6.3" text-anchor="end" fill="#222" transform="rotate(-90 386.55 428.9)">TINF2</text>
<text x="395.45" y="428.9" font-size="6.3" text-anchor="end" fill="#222" transform="rotate(-90 395.45 428.9)">POT1</text>
<text x="404.35" y="428.9" font-size="6.3" text-anchor="end" fill="#222" transform="rotate(-90 404.35 428.9)">RTEL1</text>
<text x="413.25" y="428.9" font-size="6.3" text-anchor="end" fill="#222" transform="rotate(-90 413.25 428.9)">SLX4</text>
<text x="422.15" y="428.9" font-size="6.3" text-anchor="end" fill="#222" transform="rotate(-90 422.15 428.9)">TPP1</text>
<text x="431.05" y="428.9" font-size="6.3" text-anchor="end" fill="#222" transform="rotate(-90 431.05 428.9)">NHP2</text>
<text x="439.95" y="428.9" font-size="6.3" text-anchor="end" fill="#222" transform="rotate(-90 439.95 428.9)">NBN</text>
<text x="448.85" y="428.9" font-size="6.3" text-anchor="end" fill="#222" transform="rotate(-90 448.85 428.9)">TERT</text>
<text x="457.75" y="428.9" font-size="6.3" text-anchor="end" fill="#222" transform="rotate(-90 457.75 428.9)">TERF2</text>
<text x="466.65" y="428.9" font-size="6.3" text-anchor="end" fill="#222" transform="rotate(-90 466.65 428.9)">ACD</text>
<text x="475.55" y="428.9" font-size="6.3" text-anchor="end" fill="#222" transform="rotate(-90 475.55 428.9)">ATM</text>
<text x="484.45" y="428.9" font-size="6.3" text-anchor="end" fill="#222" transform="rotate(-90 484.45 428.9)">EGF</text>
<text x="493.35" y="428.9" font-size="6.3" text-anchor="end" fill="#222" transform="rotate(-90 493.35 428.9)">WRAP53</text>
<path d="M402.7,450.8 V466.7 H347.3 V478.5" fill="none" stroke="#111" stroke-width="1" />
<line x1="455.7" y1="450.8" x2="455.7" y2="478.5" stroke="#111" stroke-width="1" />
<rect x="240.3" y="478.5" width="272.8" height="100.5" fill="none" stroke="#222" stroke-width="1" />
<line x1="378.5" y1="478.5" x2="378.5" y2="579" stroke="#222" stroke-width="1" />
<line x1="295.8" y1="509.11" x2="295.8" y2="496.08" stroke="#111" stroke-width="1" />
<line x1="293" y1="496.08" x2="298.6" y2="496.08" stroke="#111" stroke-width="1.2" />
<rect x="289" y="508.11" width="13.6" height="45.89" fill="#ab0a2c" stroke="#7d0a22" stroke-width="0.6" />
<line x1="317.6" y1="512.91" x2="317.6" y2="500.51" stroke="#111" stroke-width="1" />
<line x1="314.8" y1="500.51" x2="320.4" y2="500.51" stroke="#111" stroke-width="1.2" />
<rect x="310.8" y="511.91" width="13.6" height="42.09" fill="#ab0a2c" stroke="#7d0a22" stroke-width="0.6" />
<line x1="339.5" y1="525.41" x2="339.5" y2="516.65" stroke="#111" stroke-width="1" />
<line x1="336.7" y1="516.65" x2="342.3" y2="516.65" stroke="#111" stroke-width="1.2" />
<rect x="332.7" y="524.41" width="13.6" height="29.59" fill="#ab0a2c" stroke="#7d0a22" stroke-width="0.6" />
<line x1="361.3" y1="530.15" x2="361.3" y2="522.82" stroke="#111" stroke-width="1" />
<line x1="358.5" y1="522.82" x2="364.1" y2="522.82" stroke="#111" stroke-width="1.2" />
<rect x="354.5" y="529.15" width="13.6" height="24.85" fill="#ab0a2c" stroke="#7d0a22" stroke-width="0.6" />
<line x1="280.4" y1="488.8" x2="280.4" y2="554.6" stroke="#1a1a1a" stroke-width="1.2" />
<line x1="277" y1="554" x2="372.6" y2="554" stroke="#1a1a1a" stroke-width="1.2" />
<line x1="277" y1="490.7" x2="280.4" y2="490.7" stroke="#1a1a1a" stroke-width="1" />
<text x="275.4" y="492.9" font-size="6.4" text-anchor="end" fill="#3a3a3a">2.0</text>
<line x1="277" y1="506.52" x2="280.4" y2="506.52" stroke="#1a1a1a" stroke-width="1" />
<text x="275.4" y="508.72" font-size="6.4" text-anchor="end" fill="#3a3a3a">1.5</text>
<line x1="277" y1="522.35" x2="280.4" y2="522.35" stroke="#1a1a1a" stroke-width="1" />
<text x="275.4" y="524.55" font-size="6.4" text-anchor="end" fill="#3a3a3a">1.0</text>
<line x1="277" y1="538.17" x2="280.4" y2="538.17" stroke="#1a1a1a" stroke-width="1" />
<text x="275.4" y="540.38" font-size="6.4" text-anchor="end" fill="#3a3a3a">0.5</text>
<line x1="277" y1="554" x2="280.4" y2="554" stroke="#1a1a1a" stroke-width="1" />
<text x="275.4" y="556.2" font-size="6.4" text-anchor="end" fill="#3a3a3a">0.0</text>
<line x1="295.8" y1="554" x2="295.8" y2="556.2" stroke="#1a1a1a" stroke-width="0.9" />
<text x="299.2" y="562.6" font-size="6" text-anchor="end" fill="#222" transform="rotate(-45 299.2 562.6)">NIH-2</text>
<line x1="317.6" y1="554" x2="317.6" y2="556.2" stroke="#1a1a1a" stroke-width="0.9" />
<text x="321" y="562.6" font-size="6" text-anchor="end" fill="#222" transform="rotate(-45 321 562.6)">NIH-3</text>
<line x1="339.5" y1="554" x2="339.5" y2="556.2" stroke="#1a1a1a" stroke-width="0.9" />
<text x="342.9" y="562.6" font-size="6" text-anchor="end" fill="#222" transform="rotate(-45 342.9 562.6)">NIH-5</text>
<line x1="361.3" y1="554" x2="361.3" y2="556.2" stroke="#1a1a1a" stroke-width="0.9" />
<text x="364.7" y="562.6" font-size="6" text-anchor="end" fill="#222" transform="rotate(-45 364.7 562.6)">NIH-7</text>
<text x="250.8" y="521" font-size="6.6" text-anchor="middle" fill="#1a1a1a" font-weight="bold" transform="rotate(-90 250.8 521)" textLength="76.7" lengthAdjust="spacingAndGlyphs">Normalized <tspan font-style="italic">RTEL1</tspan> expression</text>
<text x="261.3" y="521" font-size="6.6" text-anchor="middle" font-weight="bold" fill="#1a1a1a" textLength="35.2" lengthAdjust="spacingAndGlyphs" transform="rotate(-90 261.3 521)">(fold-change)</text>
<line x1="432.7" y1="517.65" x2="432.7" y2="504.29" stroke="#111" stroke-width="1" />
<line x1="429.9" y1="504.29" x2="435.5" y2="504.29" stroke="#111" stroke-width="1.2" />
<rect x="426" y="516.65" width="13.4" height="37.05" fill="#ab0a2c" stroke="#7d0a22" stroke-width="0.6" />
<line x1="453.7" y1="529.58" x2="453.7" y2="520.2" stroke="#111" stroke-width="1" />
<line x1="450.9" y1="520.2" x2="456.5" y2="520.2" stroke="#111" stroke-width="1.2" />
<rect x="447" y="528.58" width="13.4" height="25.12" fill="#ab0a2c" stroke="#7d0a22" stroke-width="0.6" />
<line x1="474.6" y1="533.18" x2="474.6" y2="524.94" stroke="#111" stroke-width="1" />
<line x1="471.8" y1="524.94" x2="477.4" y2="524.94" stroke="#111" stroke-width="1.2" />
<rect x="467.9" y="532.18" width="13.4" height="21.52" fill="#ab0a2c" stroke="#7d0a22" stroke-width="0.6" />
<line x1="495.5" y1="538.16" x2="495.5" y2="531.3" stroke="#111" stroke-width="1" />
<line x1="492.7" y1="531.3" x2="498.3" y2="531.3" stroke="#111" stroke-width="1.2" />
<rect x="488.8" y="537.16" width="13.4" height="16.54" fill="#ab0a2c" stroke="#7d0a22" stroke-width="0.6" />
<line x1="418.2" y1="488.4" x2="418.2" y2="554.3" stroke="#1a1a1a" stroke-width="1.2" />
<line x1="414.8" y1="553.7" x2="510.4" y2="553.7" stroke="#1a1a1a" stroke-width="1.2" />
<line x1="414.8" y1="490.9" x2="418.2" y2="490.9" stroke="#1a1a1a" stroke-width="1" />
<text x="413.2" y="493.1" font-size="6.4" text-anchor="end" fill="#3a3a3a">1.5</text>
<line x1="414.8" y1="511.83" x2="418.2" y2="511.83" stroke="#1a1a1a" stroke-width="1" />
<text x="413.2" y="514.03" font-size="6.4" text-anchor="end" fill="#3a3a3a">1.0</text>
<line x1="414.8" y1="532.77" x2="418.2" y2="532.77" stroke="#1a1a1a" stroke-width="1" />
<text x="413.2" y="534.97" font-size="6.4" text-anchor="end" fill="#3a3a3a">0.5</text>
<line x1="414.8" y1="553.7" x2="418.2" y2="553.7" stroke="#1a1a1a" stroke-width="1" />
<text x="413.2" y="555.9" font-size="6.4" text-anchor="end" fill="#3a3a3a">0.0</text>
<line x1="432.7" y1="553.7" x2="432.7" y2="555.9" stroke="#1a1a1a" stroke-width="0.9" />
<text x="436.1" y="562.3" font-size="6" text-anchor="end" fill="#222" transform="rotate(-45 436.1 562.3)">NIH-2</text>
<line x1="453.7" y1="553.7" x2="453.7" y2="555.9" stroke="#1a1a1a" stroke-width="0.9" />
<text x="457.1" y="562.3" font-size="6" text-anchor="end" fill="#222" transform="rotate(-45 457.1 562.3)">NIH-3</text>
<line x1="474.6" y1="553.7" x2="474.6" y2="555.9" stroke="#1a1a1a" stroke-width="0.9" />
<text x="478" y="562.3" font-size="6" text-anchor="end" fill="#222" transform="rotate(-45 478 562.3)">NIH-5</text>
<line x1="495.5" y1="553.7" x2="495.5" y2="555.9" stroke="#1a1a1a" stroke-width="0.9" />
<text x="498.9" y="562.3" font-size="6" text-anchor="end" fill="#222" transform="rotate(-45 498.9 562.3)">NIH-7</text>
<text x="389" y="521" font-size="6.6" text-anchor="middle" fill="#1a1a1a" font-weight="bold" transform="rotate(-90 389 521)" textLength="73.8" lengthAdjust="spacingAndGlyphs">Normalized <tspan font-style="italic">TRF2</tspan> expression</text>
<text x="399.2" y="521" font-size="6.6" text-anchor="middle" font-weight="bold" fill="#1a1a1a" textLength="34" lengthAdjust="spacingAndGlyphs" transform="rotate(-90 399.2 521)">(fold-change)</text>
<rect x="240.5" y="588.5" width="273" height="106.3" fill="none" stroke="#222" stroke-width="1.1" />
<path d="M294.5,579 V596.8 H305" fill="none" stroke="#111" stroke-width="1" />
<path d="M303.6,594.6 L308.8,596.8 L303.6,599 Z" fill="#111" />
<text x="316.8" y="598.3" font-size="7.1" fill="#222" textLength="128.7" lengthAdjust="spacingAndGlyphs" text-decoration="underline"><tspan font-style="italic">RTEL1</tspan> expression validated by RT-PCR</text>
<line x1="316.8" y1="599.4" x2="445.5" y2="599.4" stroke="#333" stroke-width="0.6" />
<text x="320" y="608.8" font-size="6.1" fill="#222" textLength="31.5" lengthAdjust="spacingAndGlyphs">All isoforms</text>
<text x="431.2" y="608.5" font-size="6.4" fill="#222" textLength="52.4" lengthAdjust="spacingAndGlyphs">Isoform 3(1300aa)</text>
<line x1="296.95" y1="667.3" x2="296.95" y2="665.75" stroke="#111" stroke-width="1" />
<line x1="294.15" y1="665.75" x2="299.75" y2="665.75" stroke="#111" stroke-width="1.2" />
<rect x="292.7" y="666.3" width="8.5" height="3.3" fill="#ab0a2c" stroke="#7d0a22" stroke-width="0.6" />
<line x1="310.23" y1="662.76" x2="310.23" y2="660.52" stroke="#111" stroke-width="1" />
<line x1="307.43" y1="660.52" x2="313.03" y2="660.52" stroke="#111" stroke-width="1.2" />
<rect x="305.98" y="661.76" width="8.5" height="7.84" fill="#ab0a2c" stroke="#7d0a22" stroke-width="0.6" />
<line x1="323.51" y1="663.18" x2="323.51" y2="657.77" stroke="#111" stroke-width="1" />
<line x1="320.71" y1="657.77" x2="326.31" y2="657.77" stroke="#111" stroke-width="1.2" />
<rect x="319.26" y="662.18" width="8.5" height="7.42" fill="#ab0a2c" stroke="#7d0a22" stroke-width="0.6" />
<line x1="336.79" y1="660.98" x2="336.79" y2="658.6" stroke="#111" stroke-width="1" />
<line x1="333.99" y1="658.6" x2="339.59" y2="658.6" stroke="#111" stroke-width="1.2" />
<rect x="332.54" y="659.98" width="8.5" height="9.62" fill="#ab0a2c" stroke="#7d0a22" stroke-width="0.6" />
<line x1="350.07" y1="634.02" x2="350.07" y2="625.6" stroke="#111" stroke-width="1" />
<line x1="347.27" y1="625.6" x2="352.87" y2="625.6" stroke="#111" stroke-width="1.2" />
<rect x="345.82" y="633.02" width="8.5" height="36.58" fill="#ab0a2c" stroke="#7d0a22" stroke-width="0.6" />
<line x1="363.35" y1="662.08" x2="363.35" y2="660.66" stroke="#111" stroke-width="1" />
<line x1="360.55" y1="660.66" x2="366.15" y2="660.66" stroke="#111" stroke-width="1.2" />
<rect x="359.1" y="661.08" width="8.5" height="8.52" fill="#ab0a2c" stroke="#7d0a22" stroke-width="0.6" />
<line x1="376.63" y1="639.25" x2="376.63" y2="637.7" stroke="#111" stroke-width="1" />
<line x1="373.83" y1="637.7" x2="379.43" y2="637.7" stroke="#111" stroke-width="1.2" />
<rect x="372.38" y="638.25" width="8.5" height="31.35" fill="#ab0a2c" stroke="#7d0a22" stroke-width="0.6" />
<line x1="288.5" y1="613.4" x2="288.5" y2="670.2" stroke="#1a1a1a" stroke-width="1.2" />
<line x1="285.1" y1="669.6" x2="385.8" y2="669.6" stroke="#1a1a1a" stroke-width="1.2" />
<line x1="285.1" y1="614.6" x2="288.5" y2="614.6" stroke="#1a1a1a" stroke-width="1" />
<text x="283.5" y="616.8" font-size="6.4" text-anchor="end" fill="#3a3a3a">20</text>
<line x1="285.1" y1="628.35" x2="288.5" y2="628.35" stroke="#1a1a1a" stroke-width="1" />
<text x="283.5" y="630.55" font-size="6.4" text-anchor="end" fill="#3a3a3a">15</text>
<line x1="285.1" y1="642.1" x2="288.5" y2="642.1" stroke="#1a1a1a" stroke-width="1" />
<text x="283.5" y="644.3" font-size="6.4" text-anchor="end" fill="#3a3a3a">10</text>
<line x1="285.1" y1="655.85" x2="288.5" y2="655.85" stroke="#1a1a1a" stroke-width="1" />
<text x="283.5" y="658.05" font-size="6.4" text-anchor="end" fill="#3a3a3a">5</text>
<line x1="285.1" y1="669.6" x2="288.5" y2="669.6" stroke="#1a1a1a" stroke-width="1" />
<text x="283.5" y="671.8" font-size="6.4" text-anchor="end" fill="#3a3a3a">0</text>
<line x1="296.95" y1="669.6" x2="296.95" y2="671.8" stroke="#1a1a1a" stroke-width="0.9" />
<text x="300.55" y="677.2" font-size="6" text-anchor="end" fill="#222" transform="rotate(-45 300.55 677.2)">CT</text>
<line x1="310.23" y1="669.6" x2="310.23" y2="671.8" stroke="#1a1a1a" stroke-width="0.9" />
<text x="313.83" y="677.2" font-size="6" text-anchor="end" fill="#222" transform="rotate(-45 313.83 677.2)">NIH-1</text>
<line x1="323.51" y1="669.6" x2="323.51" y2="671.8" stroke="#1a1a1a" stroke-width="0.9" />
<text x="327.11" y="677.2" font-size="6" text-anchor="end" fill="#222" transform="rotate(-45 327.11 677.2)">NIH-3</text>
<line x1="336.79" y1="669.6" x2="336.79" y2="671.8" stroke="#1a1a1a" stroke-width="0.9" />
<text x="340.39" y="677.2" font-size="6" text-anchor="end" fill="#222" transform="rotate(-45 340.39 677.2)">NIH-5</text>
<line x1="350.07" y1="669.6" x2="350.07" y2="671.8" stroke="#1a1a1a" stroke-width="0.9" />
<text x="353.67" y="677.2" font-size="6" text-anchor="end" fill="#222" transform="rotate(-45 353.67 677.2)">NIH-6</text>
<line x1="363.35" y1="669.6" x2="363.35" y2="671.8" stroke="#1a1a1a" stroke-width="0.9" />
<text x="366.95" y="677.2" font-size="6" text-anchor="end" fill="#222" transform="rotate(-45 366.95 677.2)">NIH-7</text>
<line x1="376.63" y1="669.6" x2="376.63" y2="671.8" stroke="#1a1a1a" stroke-width="0.9" />
<text x="380.23" y="677.2" font-size="6" text-anchor="end" fill="#222" transform="rotate(-45 380.23 677.2)">NIH-8</text>
<text x="258.4" y="636.8" font-size="6.6" text-anchor="middle" fill="#1a1a1a" font-weight="bold" transform="rotate(-90 258.4 636.8)" textLength="76" lengthAdjust="spacingAndGlyphs">Normalized <tspan font-style="italic">RTEL1</tspan> expression</text>
<text x="269.6" y="636.8" font-size="6.6" text-anchor="middle" font-weight="bold" fill="#1a1a1a" textLength="35" lengthAdjust="spacingAndGlyphs" transform="rotate(-90 269.6 636.8)">(fold-change)</text>
<line x1="417.15" y1="664.85" x2="417.15" y2="660.88" stroke="#111" stroke-width="1" />
<line x1="414.35" y1="660.88" x2="419.95" y2="660.88" stroke="#111" stroke-width="1.2" />
<rect x="413" y="663.85" width="8.3" height="5.95" fill="#ab0a2c" stroke="#7d0a22" stroke-width="0.6" />
<line x1="430.48" y1="630.64" x2="430.48" y2="624.58" stroke="#111" stroke-width="1" />
<line x1="427.68" y1="624.58" x2="433.28" y2="624.58" stroke="#111" stroke-width="1.2" />
<rect x="426.33" y="629.64" width="8.3" height="40.16" fill="#ab0a2c" stroke="#7d0a22" stroke-width="0.6" />
<line x1="443.81" y1="665.33" x2="443.81" y2="663.25" stroke="#111" stroke-width="1" />
<line x1="441.01" y1="663.25" x2="446.61" y2="663.25" stroke="#111" stroke-width="1.2" />
<rect x="439.66" y="664.33" width="8.3" height="5.47" fill="#ab0a2c" stroke="#7d0a22" stroke-width="0.6" />
<line x1="457.14" y1="664.25" x2="457.14" y2="662.66" stroke="#111" stroke-width="1" />
<line x1="454.34" y1="662.66" x2="459.94" y2="662.66" stroke="#111" stroke-width="1.2" />
<rect x="452.99" y="663.25" width="8.3" height="6.54" fill="#ab0a2c" stroke="#7d0a22" stroke-width="0.6" />
<line x1="470.47" y1="657.89" x2="470.47" y2="654.33" stroke="#111" stroke-width="1" />
<line x1="467.67" y1="654.33" x2="473.27" y2="654.33" stroke="#111" stroke-width="1.2" />
<rect x="466.32" y="656.89" width="8.3" height="12.91" fill="#ab0a2c" stroke="#7d0a22" stroke-width="0.6" />
<line x1="483.8" y1="663.06" x2="483.8" y2="659.98" stroke="#111" stroke-width="1" />
<line x1="481" y1="659.98" x2="486.6" y2="659.98" stroke="#111" stroke-width="1.2" />
<rect x="479.65" y="662.06" width="8.3" height="7.74" fill="#ab0a2c" stroke="#7d0a22" stroke-width="0.6" />
<line x1="497.13" y1="647" x2="497.13" y2="643.02" stroke="#111" stroke-width="1" />
<line x1="494.33" y1="643.02" x2="499.93" y2="643.02" stroke="#111" stroke-width="1.2" />
<rect x="492.98" y="646" width="8.3" height="23.8" fill="#ab0a2c" stroke="#7d0a22" stroke-width="0.6" />
<line x1="408.4" y1="617" x2="408.4" y2="670.4" stroke="#1a1a1a" stroke-width="1.2" />
<line x1="405" y1="669.8" x2="506.5" y2="669.8" stroke="#1a1a1a" stroke-width="1.2" />
<line x1="405" y1="622.2" x2="408.4" y2="622.2" stroke="#1a1a1a" stroke-width="1" />
<text x="403.4" y="624.4" font-size="6.4" text-anchor="end" fill="#3a3a3a">8</text>
<line x1="405" y1="634.1" x2="408.4" y2="634.1" stroke="#1a1a1a" stroke-width="1" />
<text x="403.4" y="636.3" font-size="6.4" text-anchor="end" fill="#3a3a3a">6</text>
<line x1="405" y1="646" x2="408.4" y2="646" stroke="#1a1a1a" stroke-width="1" />
<text x="403.4" y="648.2" font-size="6.4" text-anchor="end" fill="#3a3a3a">4</text>
<line x1="405" y1="657.9" x2="408.4" y2="657.9" stroke="#1a1a1a" stroke-width="1" />
<text x="403.4" y="660.1" font-size="6.4" text-anchor="end" fill="#3a3a3a">2</text>
<line x1="405" y1="669.8" x2="408.4" y2="669.8" stroke="#1a1a1a" stroke-width="1" />
<text x="403.4" y="672" font-size="6.4" text-anchor="end" fill="#3a3a3a">0</text>
<line x1="417.15" y1="669.8" x2="417.15" y2="672" stroke="#1a1a1a" stroke-width="0.9" />
<text x="420.75" y="677.4" font-size="6" text-anchor="end" fill="#222" transform="rotate(-45 420.75 677.4)">CT</text>
<line x1="430.48" y1="669.8" x2="430.48" y2="672" stroke="#1a1a1a" stroke-width="0.9" />
<text x="434.08" y="677.4" font-size="6" text-anchor="end" fill="#222" transform="rotate(-45 434.08 677.4)">NIH-1</text>
<line x1="443.81" y1="669.8" x2="443.81" y2="672" stroke="#1a1a1a" stroke-width="0.9" />
<text x="447.41" y="677.4" font-size="6" text-anchor="end" fill="#222" transform="rotate(-45 447.41 677.4)">NIH-3</text>
<line x1="457.14" y1="669.8" x2="457.14" y2="672" stroke="#1a1a1a" stroke-width="0.9" />
<text x="460.74" y="677.4" font-size="6" text-anchor="end" fill="#222" transform="rotate(-45 460.74 677.4)">NIH-5</text>
<line x1="470.47" y1="669.8" x2="470.47" y2="672" stroke="#1a1a1a" stroke-width="0.9" />
<text x="474.07" y="677.4" font-size="6" text-anchor="end" fill="#222" transform="rotate(-45 474.07 677.4)">NIH-6</text>
<line x1="483.8" y1="669.8" x2="483.8" y2="672" stroke="#1a1a1a" stroke-width="0.9" />
<text x="487.4" y="677.4" font-size="6" text-anchor="end" fill="#222" transform="rotate(-45 487.4 677.4)">NIH-7</text>
<line x1="497.13" y1="669.8" x2="497.13" y2="672" stroke="#1a1a1a" stroke-width="0.9" />
<text x="500.73" y="677.4" font-size="6" text-anchor="end" fill="#222" transform="rotate(-45 500.73 677.4)">NIH-8</text>
<text x="8" y="495" font-size="11.2" font-weight="bold" fill="#000" style="stroke:#000;stroke-width:0.45px">F</text>
<text x="39.6" y="522.9" font-size="6.8" fill="#222" transform="rotate(-45 39.6 522.9)">NIH-1</text>
<line x1="33.6" y1="525.3" x2="47.2" y2="525.3" stroke="#333" stroke-width="1.1" />
<text x="56.9" y="522.9" font-size="6.8" fill="#222" transform="rotate(-45 56.9 522.9)">NIH-2</text>
<line x1="50.9" y1="525.3" x2="64.5" y2="525.3" stroke="#333" stroke-width="1.1" />
<text x="79.8" y="522.9" font-size="6.8" fill="#222" transform="rotate(-45 79.8 522.9)">NIH-4</text>
<line x1="73.8" y1="525.3" x2="87.4" y2="525.3" stroke="#333" stroke-width="1.1" />
<text x="95.8" y="522.9" font-size="6.8" fill="#222" transform="rotate(-45 95.8 522.9)">NIH-5</text>
<line x1="89.8" y1="525.3" x2="103.4" y2="525.3" stroke="#333" stroke-width="1.1" />
<text x="113.1" y="522.9" font-size="6.8" fill="#222" transform="rotate(-45 113.1 522.9)">NIH-6</text>
<line x1="107.1" y1="525.3" x2="120.7" y2="525.3" stroke="#333" stroke-width="1.1" />
<text x="130.9" y="522.9" font-size="6.8" fill="#222" transform="rotate(-45 130.9 522.9)">NIH-7</text>
<line x1="124.9" y1="525.3" x2="138.5" y2="525.3" stroke="#333" stroke-width="1.1" />
<text x="148.8" y="522.9" font-size="6.8" fill="#222" transform="rotate(-45 148.8 522.9)">NIH-8</text>
<line x1="142.8" y1="525.3" x2="156.4" y2="525.3" stroke="#333" stroke-width="1.1" />
<text x="166.7" y="522.9" font-size="6.8" fill="#222" transform="rotate(-45 166.7 522.9)">P1-NIH2</text>
<line x1="160.7" y1="525.3" x2="174.3" y2="525.3" stroke="#333" stroke-width="1.1" />
<text x="183.8" y="522.9" font-size="6.8" fill="#222" transform="rotate(-45 183.8 522.9)">Control</text>
<line x1="177.8" y1="525.3" x2="191.4" y2="525.3" stroke="#333" stroke-width="1.1" />
<text x="201.5" y="522.9" font-size="6.8" fill="#222" transform="rotate(-45 201.5 522.9)">Control</text>
<line x1="195.5" y1="525.3" x2="209.1" y2="525.3" stroke="#333" stroke-width="1.1" />
<text x="219.2" y="522.9" font-size="6.8" fill="#222" transform="rotate(-45 219.2 522.9)">CT1</text>
<line x1="213.2" y1="525.3" x2="226.8" y2="525.3" stroke="#333" stroke-width="1.1" />
<text x="11" y="533.9" font-size="6.6" fill="#222" font-style="italic">Phi29</text>
<text x="40.4" y="534.2" font-size="7" text-anchor="middle" fill="#222">+</text>
<text x="57.7" y="534.2" font-size="7" text-anchor="middle" fill="#222">+</text>
<text x="80.6" y="534.2" font-size="7" text-anchor="middle" fill="#222">+</text>
<text x="96.6" y="534.2" font-size="7" text-anchor="middle" fill="#222">+</text>
<text x="113.9" y="534.2" font-size="7" text-anchor="middle" fill="#222">+</text>
<text x="131.7" y="534.2" font-size="7" text-anchor="middle" fill="#222">+</text>
<text x="149.6" y="534.2" font-size="7" text-anchor="middle" fill="#222">+</text>
<text x="167.5" y="534.2" font-size="7" text-anchor="middle" fill="#222">+</text>
<line x1="183.8" y1="531.5" x2="185.4" y2="531.5" stroke="#333" stroke-width="0.8" />
<text x="202.3" y="534.2" font-size="7" text-anchor="middle" fill="#222">+</text>
<text x="220" y="534.2" font-size="7" text-anchor="middle" fill="#222">+</text>
<text x="19.2" y="556.6" font-size="7" text-anchor="middle" fill="#222">TC</text>
<text x="23.4" y="614" font-size="6.6" text-anchor="middle" fill="#222" textLength="31" lengthAdjust="spacingAndGlyphs" transform="rotate(-90 23.4 614)">Linear TRF</text>
<rect x="31" y="567.2" width="199.6" height="3.2" fill="#5a5a5a" />
<rect x="178.2" y="567.2" width="52.4" height="1" fill="#fff" />
<rect x="31.3" y="538.2" width="36" height="29.2" fill="url(#tcg)" />
<rect x="69.3" y="538.2" width="161.1" height="29.2" fill="url(#tcg)" />
<g clip-path="url(#cp12)">
<rect x="33.4" y="547" width="14" height="8.4" rx="4.2" ry="3.36" fill="#000" fill-opacity="0.4" filter="url(#bl2)"/>
<rect x="50.7" y="547" width="14" height="8.4" rx="4.2" ry="3.36" fill="#000" fill-opacity="0.4" filter="url(#bl2)"/>
<rect x="29.9" y="538.2" width="3.2" height="29.2" fill="#d6d6d6" filter="url(#bl1)"/>
<rect x="47.2" y="538.2" width="3.2" height="29.2" fill="#d6d6d6" filter="url(#bl1)"/>
<rect x="64.4" y="538.2" width="3.2" height="29.2" fill="#d6d6d6" filter="url(#bl1)"/>
</g>
<g clip-path="url(#cp13)">
<rect x="87.1" y="538.2" width="3" height="29.2" fill="#d4d4d4" filter="url(#bl1)"/>
<rect x="103.75" y="538.2" width="3" height="29.2" fill="#d4d4d4" filter="url(#bl1)"/>
<rect x="121.3" y="538.2" width="3" height="29.2" fill="#d4d4d4" filter="url(#bl1)"/>
<rect x="139.15" y="538.2" width="3" height="29.2" fill="#d4d4d4" filter="url(#bl1)"/>
<rect x="157.05" y="538.2" width="3" height="29.2" fill="#d4d4d4" filter="url(#bl1)"/>
<rect x="174.55" y="538.2" width="3" height="29.2" fill="#d4d4d4" filter="url(#bl1)"/>
<rect x="191.95" y="538.2" width="3" height="29.2" fill="#d4d4d4" filter="url(#bl1)"/>
<rect x="209.65" y="538.2" width="3" height="29.2" fill="#d4d4d4" filter="url(#bl1)"/>
<rect x="228.5" y="538.2" width="3" height="29.2" fill="#d4d4d4" filter="url(#bl1)"/>
<rect x="69.3" y="538.2" width="3" height="29.2" fill="#d4d4d4" filter="url(#bl1)"/>
<rect x="89.6" y="549" width="14" height="7" rx="3.5" ry="2.8" fill="#000" fill-opacity="0.12" filter="url(#bl15)"/>
<rect x="107" y="549" width="14" height="7" rx="3.5" ry="2.8" fill="#000" fill-opacity="0.06" filter="url(#bl15)"/>
<rect x="125.6" y="548.5" width="13.4" height="7.5" rx="3.75" ry="3" fill="#000" fill-opacity="0.16" filter="url(#bl15)"/>
<rect x="195.4" y="538.2" width="14.8" height="29.2" fill="#000" fill-opacity="0.08" filter="url(#bl1)"/>
<rect x="213" y="538.2" width="15" height="29.2" fill="#000" fill-opacity="0.12" filter="url(#bl1)"/>
<rect x="160.6" y="546.6" width="16.2" height="13" rx="3.5" ry="2.8" fill="#000" fill-opacity="1" filter="url(#bl1)"/>
<rect x="162" y="556" width="14" height="11" rx="3" ry="2.4" fill="#000" fill-opacity="0.4" filter="url(#bl15)"/>
<rect x="196" y="552.8" width="13.8" height="8.6" rx="3" ry="2.4" fill="#000" fill-opacity="0.95" filter="url(#bl1)"/>
<rect x="196" y="545" width="13.8" height="11" rx="3" ry="2.4" fill="#000" fill-opacity="0.18" filter="url(#bl15)"/>
<rect x="213.6" y="551.8" width="14.2" height="14.2" rx="3" ry="2.4" fill="#000" fill-opacity="1" filter="url(#bl1)"/>
<rect x="213.6" y="544" width="14.2" height="12" rx="3" ry="2.4" fill="#000" fill-opacity="0.25" filter="url(#bl15)"/>
</g>
<rect x="31.3" y="538.2" width="36.1" height="29.2" fill="none" stroke="#111" stroke-width="1.3" />
<rect x="69.3" y="538.2" width="161.1" height="29.2" fill="none" stroke="#111" stroke-width="1.3" />
<rect x="31.3" y="570.3" width="36" height="95.6" fill="#f8f8f8" />
<rect x="69.3" y="570.3" width="108.8" height="95.9" fill="#f8f8f8" />
<g clip-path="url(#cp14)">
<rect x="33.8" y="566" width="13.4" height="102" fill="url(#sm1)" filter="url(#bl15)"/>
<rect x="51.2" y="566" width="13.4" height="102" fill="url(#sm2)" filter="url(#bl15)"/>
</g>
<g clip-path="url(#cp15)">
<rect x="72.2" y="566" width="14.2" height="102" fill="url(#sm4)" filter="url(#bl15)"/>
<rect x="89.6" y="566" width="14.2" height="102" fill="url(#sm5)" filter="url(#bl15)"/>
<rect x="107.8" y="566" width="14.6" height="102" fill="url(#sm6)" filter="url(#bl15)"/>
<rect x="126.4" y="566" width="14.4" height="102" fill="url(#sm7)" filter="url(#bl15)"/>
<rect x="144.6" y="566" width="13.8" height="102" fill="url(#sm8)" filter="url(#bl15)"/>
<rect x="161" y="566" width="14.6" height="102" fill="url(#sm9)" filter="url(#bl15)"/>
</g>
<rect x="31.3" y="570.3" width="36.1" height="95.6" fill="none" stroke="#111" stroke-width="1.3" />
<rect x="69.3" y="570.3" width="108.8" height="95.9" fill="none" stroke="#111" stroke-width="1.3" />
<rect x="0" y="0" width="520" height="1.3" fill="#000" />
<rect x="0" y="0" width="1.1" height="699.2" fill="#000" />
<rect x="518.6" y="0" width="1.4" height="702" fill="#000" />
<path d="M0,697.5 L520,700.4 L520,702 L0,699.1 Z" fill="#000" /></svg>
</body></html>
